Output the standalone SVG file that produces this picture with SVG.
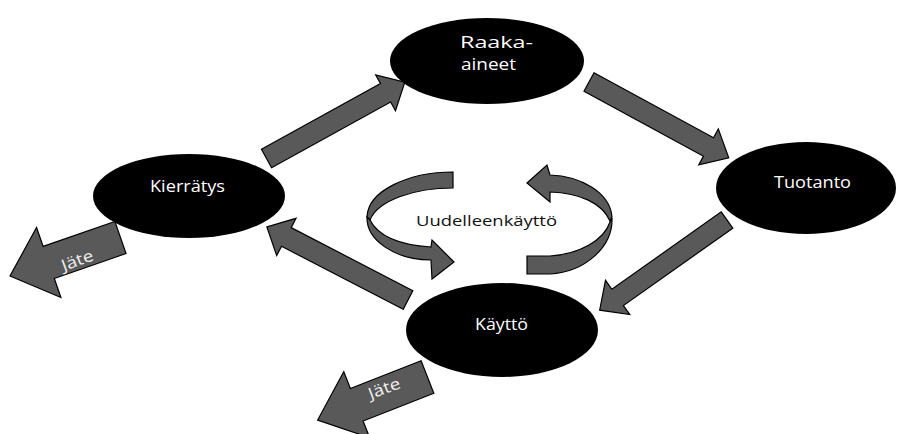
<svg xmlns="http://www.w3.org/2000/svg" width="897" height="434" viewBox="0 0 897 434">
<style>
.arr{fill:#595959;stroke:#000;stroke-width:1.2;stroke-linejoin:miter}
.node{fill:#000}
.nt{font-family:"Open Sans","Liberation Sans",sans-serif;font-size:16px;fill:#fff}
.jt{font-family:"Open Sans","Liberation Sans",sans-serif;font-size:16px;fill:#f0f0f0}
.ct{font-family:"Open Sans","Liberation Sans",sans-serif;font-size:15px;fill:#111}
</style>
<rect width="897" height="434" fill="#fff"/>
<g id="connectors">
  <polygon class="arr" transform="translate(266.5,158.5) rotate(-28.9)" points="0,-10.5 136,-10.5 136,-20.5 158,0 136,20.5 136,10.5 0,10.5"/>
  <polygon class="arr" transform="translate(589,82) rotate(28.5)" points="0,-10.5 136,-10.5 136,-20.5 159,0 136,20.5 136,10.5 0,10.5"/>
  <polygon class="arr" transform="translate(727,220) rotate(144.7)" points="0,-10 134,-10 134,-21 156,0 134,21 134,10 0,10"/>
  <polygon class="arr" transform="translate(408,300) rotate(207.4)" points="0,-10.5 137,-10.5 137,-21 159,0 137,21 137,10.5 0,10.5"/>
  <g id="jate1">
    <polygon class="arr" transform="translate(120.5,237.5) rotate(160.8)" points="0,-17 76,-17 76,-37 117,0 76,37 76,17 0,17"/>
    <text class="jt" transform="translate(77,261) rotate(-20)" x="-16" y="5" textLength="33" lengthAdjust="spacingAndGlyphs">Jäte</text>
  </g>
  <g id="jate2">
    <polygon class="arr" transform="translate(427.5,377) rotate(158.6)" points="0,-17.5 76,-17.5 76,-35.5 118,0 76,35.5 76,17.5 0,17.5"/>
    <text class="jt" transform="translate(384,389) rotate(-21)" x="-16" y="5" textLength="33" lengthAdjust="spacingAndGlyphs">Jäte</text>
  </g>
</g>
<g id="reuse">
  <path class="arr" d="M453,172 C410,172 368,190 367,217 L370,220 C378,200 415,188 453,188 Z"/>
  <path class="arr" d="M367,217 C366,240 395,260 431,260 L432,279 L454,262 L432,240 L431,247 C400,245 378,236 370,220 Z"/>
  <path class="arr" d="M527,183 L547,165 L550,175 C580,176 610,192 612,217 L610,221 C602,203 580,193 550,192 L550,202 Z"/>
  <path class="arr" d="M612,218 C613,247 585,272 550,274 L527,274 L527,256 L550,256 C580,254 604,240 610,222 Z"/>
  <text class="ct" x="416" y="226" textLength="141" lengthAdjust="spacingAndGlyphs">Uudelleenkäyttö</text>
</g>
<g id="raaka-aineet">
  <ellipse class="node" cx="487" cy="61" rx="97" ry="43"/>
  <text class="nt" x="460" y="48" textLength="73" lengthAdjust="spacingAndGlyphs">Raaka-</text>
  <text class="nt" x="461" y="70" textLength="55" lengthAdjust="spacingAndGlyphs">aineet</text>
</g>
<g id="kierratys">
  <ellipse class="node" cx="189" cy="196" rx="96" ry="42"/>
  <text class="nt" x="150" y="192" textLength="75" lengthAdjust="spacingAndGlyphs">Kierrätys</text>
</g>
<g id="tuotanto">
  <ellipse class="node" cx="806" cy="188" rx="90" ry="46"/>
  <text class="nt" x="774" y="188" textLength="77" lengthAdjust="spacingAndGlyphs">Tuotanto</text>
</g>
<g id="kaytto">
  <ellipse class="node" cx="502" cy="330" rx="96" ry="47"/>
  <text class="nt" x="475" y="330" textLength="53" lengthAdjust="spacingAndGlyphs">Käyttö</text>
</g>
</svg>
